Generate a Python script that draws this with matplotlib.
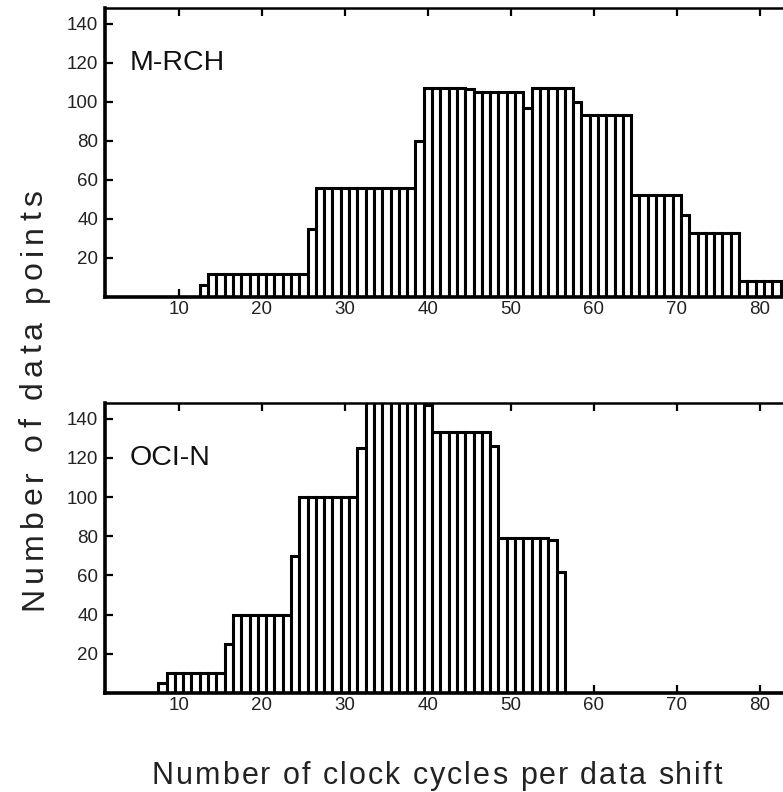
import matplotlib
matplotlib.use("Agg")
import matplotlib.pyplot as plt
import numpy as np

plt.rcParams['font.family'] = ['Liberation Sans', 'DejaVu Sans']

# ---- data ----
cycles_top = list(range(1, 84))
counts_top = ([0] * 12 + [6] + [12] * 12 + [35] + [56] * 12 + [80]
              + [107] * 5 + [106.5] + [105] * 6 + [97] + [107] * 5 + [100]
              + [93] * 6 + [52] * 6 + [42] + [33] * 6 + [8] * 6)

cycles_bot = list(range(1, 84))
counts_bot = ([0] * 7 + [5] + [10] * 7 + [25] + [40] * 7 + [70] + [100] * 7
              + [125] + [150] * 7 + [147] + [133] * 7 + [126] + [79] * 6
              + [78] + [62] + [0] * 27)

panel_labels = ["M-RCH", "OCI-N"]
xticks = [10, 20, 30, 40, 50, 60, 70, 80]
yticks = [20, 40, 60, 80, 100, 120, 140]
xlabel = "Number of clock cycles per data shift"
ylabel = "Number of data points"

W, H = 783, 792
fig = plt.figure(figsize=(W / 100, H / 100), dpi=100)
renderer = fig.canvas.get_renderer()


def add_panel(top_px, bot_px, xs, ys, label):
    left_px = 105
    ax = fig.add_axes([left_px / W, 1 - bot_px / H, (W - left_px) / W,
                       (bot_px - top_px) / H])
    ax.bar(xs, ys, width=1.0, color='white', edgecolor='black',
           linewidth=2.2, zorder=2)
    ax.set_xlim(1.08, 82.8)
    ax.set_ylim(0, 148)
    ax.set_xticks(xticks)
    ax.set_yticks(yticks)
    ax.tick_params(axis='both', direction='in', length=6, width=1.6,
                   labelsize=13.5, pad=5)
    ax.tick_params(axis='x', top=True, bottom=True, pad=3)
    ax.tick_params(axis='y', left=True, right=False, pad=5)
    ax.spines['right'].set_visible(False)
    ax.spines['left'].set_linewidth(2.6)
    ax.spines['bottom'].set_linewidth(2.6)
    ax.spines['top'].set_linewidth(1.8)
    for t in ax.get_xticklabels() + ax.get_yticklabels():
        t.set_color('#222222')
    ax.text(0.037, 0.785, label, transform=ax.transAxes, fontsize=20.5,
            ha='left', va='baseline', color='#111111', zorder=5)
    return ax


def text_width(s, size):
    t = fig.text(0, 0, s, fontsize=size)
    w = t.get_window_extent(renderer).width
    t.remove()
    return w


def tracked_text(s, size, start_px, end_px, other_px, vertical=False):
    """Draw string s with letter spacing so it spans start_px..end_px."""
    natural = text_width(s, size)
    track = (end_px - start_px - natural) / (len(s) - 1)
    for i, ch in enumerate(s):
        if ch == ' ':
            continue
        pos = start_px + text_width(s[:i + 1], size) + i * track
        if vertical:
            fig.text(other_px / W, pos / H, ch, fontsize=size,
                     rotation=90, rotation_mode='anchor',
                     ha='right', va='baseline', color='#222222')
        else:
            fig.text(pos / W, 1 - other_px / H, ch, fontsize=size,
                     ha='right', va='baseline', color='#222222')


add_panel(8, 297, cycles_top, counts_top, panel_labels[0])
add_panel(403, 693, cycles_bot, counts_bot, panel_labels[1])

# y label: from y=610 (bottom, in px from top) up to y=190
tracked_text(ylabel, 23, H - 610, H - 190, 42, vertical=True)
# x label
tracked_text(xlabel, 22, 152, 722, 784)

fig.savefig("out.png", dpi=100)
